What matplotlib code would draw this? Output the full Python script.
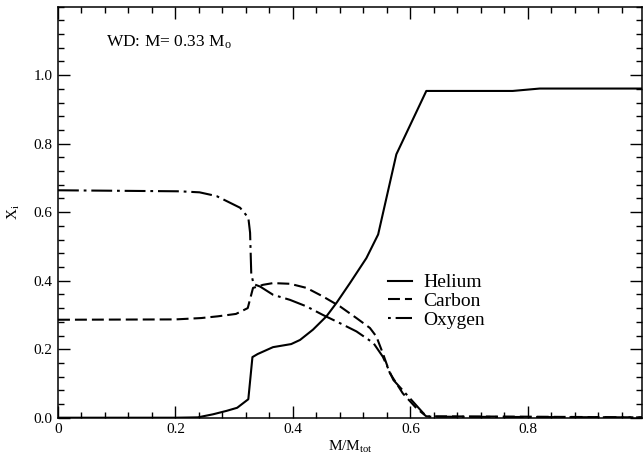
import numpy as np
import matplotlib
matplotlib.use('Agg')
import matplotlib.pyplot as plt
from matplotlib.lines import Line2D
from matplotlib.ticker import MultipleLocator, FixedLocator, FuncFormatter

plt.rcParams['font.family'] = ['Liberation Serif', 'DejaVu Serif']
plt.rcParams['mathtext.fontset'] = 'custom'
plt.rcParams['mathtext.rm'] = 'Liberation Serif'
plt.rcParams['mathtext.it'] = 'Liberation Serif:italic'
plt.rcParams['lines.scale_dashes'] = False

# mass coordinate and abundances
he_m = [0.0, 0.20, 0.238, 0.264, 0.287, 0.305, 0.324, 0.331, 0.340, 0.366, 0.397,
        0.412, 0.434, 0.457, 0.474, 0.497, 0.525, 0.545, 0.576, 0.627, 0.774,
        0.82, 0.995]
he_x = [0.0, 0.0, 0.001, 0.01, 0.02, 0.029, 0.054, 0.177, 0.186, 0.206, 0.215,
        0.227, 0.257, 0.296, 0.335, 0.393, 0.466, 0.535, 0.769, 0.954, 0.954,
        0.961, 0.961]

c_m = [0.0, 0.20, 0.244, 0.272, 0.303, 0.323, 0.332, 0.340, 0.349, 0.366, 0.395,
       0.423, 0.451, 0.480, 0.508, 0.531, 0.542, 0.553, 0.565, 0.587, 0.610,
       0.627, 0.64, 0.80, 0.995]
c_x = [0.286, 0.287, 0.291, 0.296, 0.303, 0.320, 0.379, 0.383, 0.388, 0.393, 0.391,
       0.379, 0.354, 0.325, 0.291, 0.262, 0.237, 0.188, 0.130, 0.071, 0.028,
       0.004, 0.004, 0.003, 0.001]

o_m = [0.0, 0.207, 0.241, 0.270, 0.310, 0.324, 0.327, 0.329, 0.333, 0.344, 0.366,
       0.395, 0.423, 0.451, 0.480, 0.508, 0.537, 0.553, 0.571, 0.599, 0.622,
       0.630, 0.64, 0.80, 0.995]
o_x = [0.664, 0.661, 0.658, 0.647, 0.613, 0.584, 0.540, 0.420, 0.390, 0.383, 0.359,
       0.344, 0.325, 0.300, 0.276, 0.252, 0.218, 0.178, 0.110, 0.057, 0.013,
       0.003, 0.003, 0.002, 0.001]

fig = plt.figure(figsize=(6.43, 4.61), dpi=100)
ax = fig.add_axes([0.0902, 0.0939, 0.9090, 0.8916])

lw = 1.5
dash_c = (8.6, 3.6)
dash_o = (15, 3.5, 2, 3.5)
ax.plot(he_m, he_x, color='black', lw=lw)
ax.plot(c_m, c_x, color='black', lw=lw, dashes=dash_c)
ax.plot(o_m, o_x, color='black', lw=lw, dashes=dash_o)

ax.set_xlim(0, 0.995)
ax.set_ylim(0, 1.2)

ax.xaxis.set_major_locator(FixedLocator([0, 0.2, 0.4, 0.6, 0.8]))
ax.xaxis.set_minor_locator(MultipleLocator(0.04))
ax.yaxis.set_major_locator(FixedLocator([0, 0.2, 0.4, 0.6, 0.8, 1.0]))
ax.yaxis.set_minor_locator(MultipleLocator(0.04))
ax.xaxis.set_major_formatter(FuncFormatter(lambda v, p: '0' if v == 0 else '%.1f' % v))
ax.yaxis.set_major_formatter(FuncFormatter(lambda v, p: '%.1f' % v))

ax.tick_params(which='both', direction='in', top=True, right=True, width=1.0,
               labelsize=11, pad=4)
ax.tick_params(which='major', length=8.5)
ax.tick_params(which='minor', length=4.5)
for s in ax.spines.values():
    s.set_linewidth(1.1)

ax.set_xlabel(r'M/M$_{\mathregular{tot}}$', fontsize=11, labelpad=2)
ax.set_ylabel(r'X$_{\mathregular{i}}$', fontsize=11, labelpad=8)

ax.text(0.082, 1.097, r'WD: M= 0.33 M$_{\mathregular{o}}$', fontsize=12.5, va='center')

# legend handles: oxygen key starts with the dot like the original
handles = [Line2D([], [], color='black', lw=lw),
           Line2D([], [], color='black', lw=lw, linestyle=(0, dash_c)),
           Line2D([], [], color='black', lw=lw, linestyle=(18.5, dash_o))]
ax.legend(handles, ['Helium', 'Carbon', 'Oxygen'], loc='upper left',
          bbox_to_anchor=(0.564, 0.35), frameon=False,
          fontsize=14, handlelength=1.25, handletextpad=0.6, labelspacing=0.05,
          borderpad=0, borderaxespad=0)

fig.savefig('out.png', dpi=100)
